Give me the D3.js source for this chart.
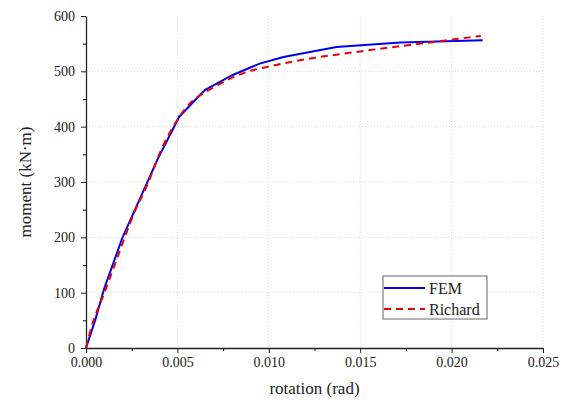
<!DOCTYPE html>
<html>
<head>
<meta charset="utf-8">
<script src="https://cdn.jsdelivr.net/npm/d3@7"></script>
<style>
  body { margin: 0; background: #fff; }
  svg text { font-family: "Liberation Serif", "Times New Roman", serif !important; }
</style>
</head>
<body>
<div id="chart"></div>
<script>
// Data
const femRotation = [0, 0.0005, 0.001, 0.002, 0.0034, 0.0039, 0.0051, 0.0065, 0.008, 0.0095, 0.0108, 0.0137, 0.0172, 0.0217]
const femMoment = [0, 50, 108, 200, 303, 340, 418, 466, 493, 514, 526, 544, 552, 556]
const richardRotation = [0, 0.0003, 0.001, 0.0016, 0.0027, 0.0033, 0.0041, 0.0053, 0.0072, 0.0088, 0.0099, 0.0117, 0.015, 0.019, 0.0216]
const richardMoment = [0, 38, 99, 153, 249, 291, 357, 427, 475, 499, 508, 520, 536, 553, 564]
const xTicks = [0, 0.005, 0.01, 0.015, 0.02, 0.025]
const yTicks = [0, 100, 200, 300, 400, 500, 600]
const seriesNames = ["FEM", "Richard"]

const margin = {top: 16, right: 21, bottom: 52, left: 86}
const W = 564, H = 400
const width = W - margin.left - margin.right
const height = H - margin.top - margin.bottom

const svg = d3.select("#chart").append("svg")
    .attr("width", W)
    .attr("height", H)
    .attr("font-family", "'Liberation Serif', serif")
const g = svg.append("g")
    .attr("transform", "translate(" + margin.left + "," + margin.top + ")")

const x = d3.scaleLinear().domain([0, 0.025]).range([0, width])
const y = d3.scaleLinear().domain([0, 600]).range([height, 0])

// dotted grid
g.append("g").selectAll("line")
    .data(xTicks.slice(1))
    .join("line")
    .attr("x1", d => x(d)).attr("x2", d => x(d))
    .attr("y1", 0).attr("y2", height)
    .attr("stroke", "#d8d8d8")
    .attr("stroke-dasharray", "1,2")
g.append("g").selectAll("line")
    .data(yTicks.slice(1, -1))
    .join("line")
    .attr("x1", 0).attr("x2", width)
    .attr("y1", d => y(d)).attr("y2", d => y(d))
    .attr("stroke", "#d8d8d8")
    .attr("stroke-dasharray", "1,2")

// minor ticks
g.append("g")
    .attr("transform", "translate(0," + height + ")")
    .call(d3.axisBottom(x).tickValues(d3.range(0.0025, 0.025, 0.005)).tickSize(3).tickFormat(""))
    .call(a => a.select(".domain").remove())
g.append("g")
    .call(d3.axisLeft(y).tickValues(d3.range(50, 600, 100)).tickSize(3).tickFormat(""))
    .call(a => a.select(".domain").remove())

// axes
const xAxis = g.append("g")
    .attr("transform", "translate(0," + height + ")")
    .call(d3.axisBottom(x).tickValues(xTicks).tickSize(5).tickSizeOuter(0).tickPadding(4).tickFormat(d3.format(".3f")))
const yAxis = g.append("g")
    .call(d3.axisLeft(y).tickValues(yTicks).tickSize(5).tickSizeOuter(0).tickPadding(6))
;[xAxis, yAxis].forEach(a => {
    a.attr("font-family", "'Liberation Serif', serif")
    a.selectAll("text").attr("font-size", 14).attr("fill", "#222")
    a.selectAll("line").attr("stroke", "#222")
    a.select(".domain").attr("stroke", "#222").attr("stroke-width", 1.3)
})

// axis titles
svg.append("text")
    .attr("x", margin.left + width / 2)
    .attr("y", 394)
    .attr("text-anchor", "middle")
    .attr("font-size", 17)
    .attr("fill", "#222")
    .text("rotation (rad)")
svg.append("text")
    .attr("transform", "translate(31," + (margin.top + height / 2) + ") rotate(-90)")
    .attr("text-anchor", "middle")
    .attr("font-size", 17)
    .attr("fill", "#222")
    .text("moment (kN·m)")

// curves
const femData = femRotation.map((r, i) => [r, femMoment[i]])
const richardData = richardRotation.map((r, i) => [r, richardMoment[i]])

g.append("path")
    .datum(femData)
    .attr("fill", "none")
    .attr("stroke", "#0000ee")
    .attr("stroke-width", 2)
    .attr("d", d3.line().x(d => x(d[0])).y(d => y(d[1])))
g.append("path")
    .datum(richardData)
    .attr("fill", "none")
    .attr("stroke", "#ee0000")
    .attr("stroke-width", 2)
    .attr("stroke-dasharray", "7,5")
    .attr("d", d3.line().curve(d3.curveMonotoneX).x(d => x(d[0])).y(d => y(d[1])))

// legend
const legend = svg.append("g").attr("transform", "translate(383,276)")
legend.append("rect")
    .attr("width", 104).attr("height", 43)
    .attr("fill", "#fff")
    .attr("stroke", "#666")
legend.selectAll(".lg")
    .data(seriesNames)
    .join("g")
    .attr("class", "lg")
    .attr("transform", (d, i) => "translate(0," + (12 + i * 21) + ")")
    .each(function(d, i) {
        const s = d3.select(this)
        s.append("line")
            .attr("x1", 1).attr("x2", 42)
            .attr("stroke", i ? "#ee0000" : "#0000ee")
            .attr("stroke-width", 2)
            .attr("stroke-dasharray", i ? "7,5" : null)
        s.append("text")
            .attr("x", 46).attr("y", 5.5)
            .attr("font-size", 16)
            .attr("fill", "#222")
            .text(d)
    })
</script>
</body>
</html>
